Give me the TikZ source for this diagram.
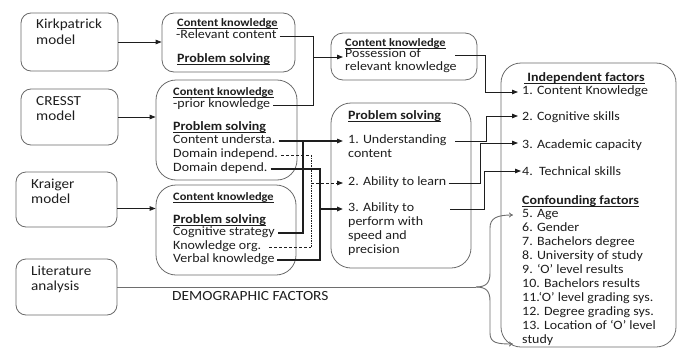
\documentclass[tikz,border=0pt]{standalone}
\usepackage{fontspec}
\setmainfont{Carlito}[FakeStretch=1.1]
\usetikzlibrary{arrows.meta}
\definecolor{ink}{HTML}{1E1E1E}
\definecolor{edge}{HTML}{6A6A6A}
\definecolor{litc}{HTML}{6E6E6E}
\newcommand\myul[1]{\setbox0\hbox{#1}\rlap{\rule[-1.3pt]{\wd0}{0.6pt}}\box0}
\begin{document}
\begin{tikzpicture}[x=1pt,y=-1pt,
  box/.style={draw=edge, line width=0.8pt, inner sep=0pt},
  txt/.style={anchor=west, inner sep=0pt, text=ink, font=\fontsize{12.7}{14}\selectfont, text height=8.4pt, text depth=2.6pt},
  hs/.style={txt, font=\fontsize{11.3}{13}\selectfont\bfseries},
  hb/.style={txt, font=\fontsize{12.7}{14}\selectfont\bfseries},
  mdl/.style={txt, font=\fontsize{13.8}{15}\selectfont},
  arr/.style={-{Triangle[length=6pt,width=4.5pt]}},
  con/.style={draw=ink, line width=0.8pt},
  conm/.style={draw=ink, line width=1.3pt},
  cont/.style={draw=ink, line width=1.9pt},
  cond/.style={draw=ink, line width=0.8pt, dash pattern=on 3pt off 2pt},
  lit/.style={draw=litc, line width=0.9pt}
]
\useasboundingbox (0,0) rectangle (686,351);

% left model boxes
\node[box, rounded corners=10pt, minimum width=97pt, minimum height=58pt] (kp) at (69.5,42) {};
\node[box, rounded corners=10pt, minimum width=97pt, minimum height=56pt] (cr) at (69.5,117) {};
\node[box, rounded corners=10pt, minimum width=101pt, minimum height=55pt] (kr) at (66.5,199.5) {};
\node[box, rounded corners=10pt, minimum width=101pt, minimum height=56pt] (lit) at (66.5,287) {};
\node[mdl] (kp1) at (36,26) {Kirkpatrick};
\node[mdl] (kp2) at (36,42) {model};
\node[mdl] (cr1) at (36,103) {CRESST};
\node[mdl] (cr2) at (36,118) {model};
\node[mdl] (kr1) at (31,186) {Kraiger};
\node[mdl] (kr2) at (31,201) {model};
\node[mdl] (li1) at (31,273) {Literature};
\node[mdl] (li2) at (31,288) {analysis};

% middle boxes
\node[box, rounded corners=12pt, minimum width=133pt, minimum height=59pt] (bA) at (228.5,42.5) {};
\node[box, rounded corners=20pt, minimum width=141pt, minimum height=100pt] (bB) at (226.5,130) {};
\node[box, rounded corners=20pt, minimum width=140pt, minimum height=90pt] (bC) at (226,230) {};
\node[box, rounded corners=12pt, minimum width=146pt, minimum height=47pt] (bD) at (404,56.5) {};
\node[box, rounded corners=20pt, minimum width=140pt, minimum height=165pt] (bE) at (401,185.5) {};
\node[box, rounded corners=20pt, minimum width=175pt, minimum height=284pt] (bF) at (588.5,205) {};

\node[hs] (a1) at (177,24) {\myul{Content knowledge}};
\node[txt] (a2) at (176,36) {-Relevant content};
\node[hb] (a3) at (177,60) {\myul{Problem solving}};

\node[hs] (b1) at (173,93) {\myul{Content knowledge}};
\node[txt] (b2) at (173,105) {-prior knowledge};
\node[hb] (b3) at (173,128) {\myul{Problem solving}};
\node[txt] (b4) at (173,141) {Content understa.};
\node[txt] (b5) at (173,155) {Domain independ.};
\node[txt] (b6) at (173,169) {Domain depend.};

\node[hs] (c1) at (173,198) {\myul{Content knowledge}};
\node[hb] (c2) at (173,221) {\myul{Problem solving}};
\node[txt] (c3) at (173,233) {Cognitive strategy};
\node[txt] (c4) at (173,247) {Knowledge org.};
\node[txt] (c5) at (173,260) {Verbal knowledge};

\node[hs] (d1) at (345,44) {\myul{Content knowledge}};
\node[txt] (d2) at (345,55) {Possession of};
\node[txt] (d3) at (345,68) {relevant knowledge};

\node[hb] (e1) at (348,117) {\myul{Problem solving}};
\node[txt] (e2) at (348,141) {1. Understanding};
\node[txt] (e3) at (348,155) {content};
\node[txt] (e4) at (348,183) {2. Ability to learn};
\node[txt] (e5) at (348,209) {3. Ability to};
\node[txt] (e6) at (348,223) {perform with};
\node[txt] (e7) at (348,237) {speed and};
\node[txt] (e8) at (348,251) {precision};

\node[hb] (f0) at (524,79) {\myul{\ Independent factors}};
\node[txt] (f1) at (522,92) {1. Content Knowledge};
\node[txt] (f2) at (522,118) {2. Cognitive skills};
\node[txt] (f3) at (522,146) {3. Academic capacity};
\node[txt] (f4) at (522,173) {4.\ \ Technical skills};
\node[hb] (f5) at (522,202) {\myul{Confounding factors}};
\node[txt] (g5) at (522,215) {5. Age};
\node[txt] (g6) at (522,229) {6. Gender};
\node[txt] (g7) at (522,243) {7. Bachelors degree};
\node[txt] (g8) at (522,257) {8. University of study};
\node[txt] (g9) at (522,271) {9. ‘O’ level results};
\node[txt] (g10) at (522,285) {10. Bachelors results};
\node[txt] (g11) at (522,299) {11.‘O’ level grading sys.};
\node[txt] (g12) at (522,313) {12. Degree grading sys.};
\node[txt] (g13) at (522,327) {13. Location of ‘O’ level};
\node[txt] (g14) at (522,341) {study};

\node[mdl, font=\fontsize{14}{15}\selectfont] (demo) at (172,298) {DEMOGRAPHIC FACTORS};

% bend coordinates
\coordinate (busA) at (313,57);
\coordinate (dout) at (455,0);
\coordinate (busD) at (485,0);
\coordinate (busU) at (303,0);
\coordinate (busI) at (311,0);
\coordinate (busT) at (320,0);
\coordinate (eoutU) at (455,0);
\coordinate (eout3) at (450,0);
\coordinate (r1) at (486,0);
\coordinate (r2) at (480,0);
\coordinate (r3) at (484,0);
\coordinate (tip) at (476,287);

% model arrows
\draw[con,arr] (kp.east) -- (kp.east -| bA.west);
\draw[con,arr] (cr.east) -- (cr.east -| bB.west);
\draw[con,arr] ([yshift=-9pt]kr.east) -- ([yshift=-9pt]kr.east -| bC.west);

% literature line and brace
\draw[lit] (lit.east) -- (tip);
\draw[lit,-{To[length=4pt,width=5pt]}] (tip) .. controls (486,287) and (490,283) .. (490,273) -- (490,228) .. controls (490,218) and (497,215) .. ([xshift=-9pt]g5.west);
\draw[lit,-{To[length=4pt,width=5pt]}] (tip) .. controls (486,287) and (490,291) .. (490,301) -- (490,333) .. controls (490,343) and (497,344) .. ([xshift=-9pt,yshift=-3pt]g14.west);

% content knowledge bus
\draw[con] ([xshift=3pt]a2.east) -- (a2.east -| busA) -- (b2.east -| busA) -- ([xshift=3pt]b2.east);
\draw[con,arr] (busA) -- ([xshift=-2pt]busA -| d2.west);
\draw[con,arr] (d2.west -| dout) -- (d2.west -| busD) -- (f1.west -| busD) -- ([xshift=-4pt]f1.west);

% understanding bus
\draw[conm,arr] ([xshift=3pt]b4.east) -- ([xshift=-5pt]e2.west);
\draw[conm] (b4.east -| busU) -- (c3.east -| busU) -- ([xshift=3pt]c3.east);

% ability to learn (dashed)
\draw[cond] ([xshift=3pt]b5.east) -- (b5.east -| busI);
\draw[draw=ink, line width=0.8pt, dash pattern=on 1.5pt off 1pt] (b5.east -| busI) -- (c4.east -| busI);
\draw[cond] ([xshift=8pt]c4.east) -- (c4.east -| busI);
\draw[cond,arr] (e4.west -| busI) -- ([xshift=-5pt]e4.west);

% perform bus (thick)
\draw[cont] ([xshift=3pt]b6.east) -- (b6.east -| busT) -- (c5.east -| busT) -- ([xshift=2pt]c5.east);
\draw[cont,arr] (e5.west -| busT) -- ([xshift=-5pt]e5.west);

% problem solving outputs
\draw[con,arr] (e2.west -| eoutU) -- (e2.west -| r1) -- ([yshift=2pt]f2.west -| r1) -- ([xshift=-4pt,yshift=2pt]f2.west);
\draw[con,arr] ([xshift=2pt]e4.east) -- (e4.east -| r2) -- ([yshift=3pt]f3.west -| r2) -- ([xshift=-4pt,yshift=3pt]f3.west);
\draw[con,arr] (e5.west -| eout3) -- (e5.west -| r3) -- ([yshift=2pt]f4.west -| r3) -- ([xshift=-1pt,yshift=2pt]f4.west);
\end{tikzpicture}
\end{document}
